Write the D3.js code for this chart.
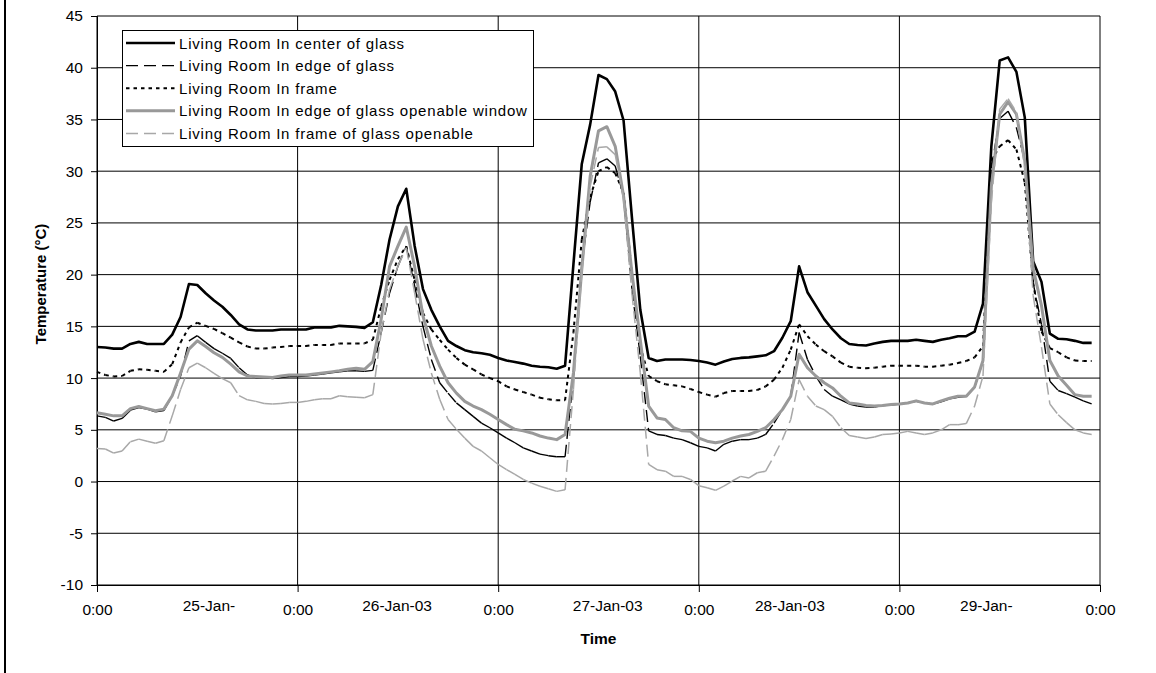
<!DOCTYPE html>
<html>
<head>
<meta charset="utf-8">
<script src="https://d3js.org/d3.v7.min.js"></script>
<style>
body { margin: 0; background: #fff; }
svg { display: block; font-family: "Liberation Sans", Arial, sans-serif; }
</style>
</head>
<body>
<div id="chart"></div>
<script>
//hourly readings from 25-Jan-03 0:00, one value per hour (120 hours)
var hours = d3.range(120);

var centerGlass = [13.0, 12.95, 12.85, 12.85, 13.3, 13.5, 13.3, 13.3, 13.3, 14.2,
    15.9, 19.1, 19.0, 18.2, 17.5, 16.9, 16.1, 15.2, 14.7, 14.6,
    14.6, 14.6, 14.7, 14.7, 14.7, 14.7, 14.9, 14.9, 14.9, 15.05,
    15.0, 14.95, 14.85, 15.4, 19.0, 23.4, 26.6, 28.3, 22.8, 18.6,
    16.6, 15.0, 13.6, 13.1, 12.7, 12.5, 12.4, 12.25, 11.95, 11.7,
    11.55, 11.4, 11.2, 11.1, 11.05, 10.9, 11.2, 21.0, 30.7, 34.5,
    39.3, 38.9, 37.7, 34.9, 25.5, 16.6, 11.95, 11.65, 11.8, 11.8,
    11.8, 11.75, 11.65, 11.5, 11.3, 11.6, 11.85, 11.95, 12.0, 12.1,
    12.2, 12.6, 13.9, 15.5, 20.8, 18.3, 17.0, 15.7, 14.7, 13.85,
    13.3, 13.2, 13.15, 13.35, 13.5, 13.6, 13.6, 13.6, 13.7, 13.6,
    13.5, 13.7, 13.85, 14.05, 14.05, 14.5, 17.2, 32.4, 40.7, 41.0,
    39.6, 35.2, 21.3, 19.3, 14.3, 13.8, 13.75, 13.6, 13.4, 13.4];

var edgeGlass = [6.35, 6.2, 5.85, 6.1, 6.9, 7.15, 7.0, 6.75, 6.85, 8.3,
    10.2, 13.6, 14.1, 13.45, 12.85, 12.4, 11.9, 11.0, 10.3, 10.05,
    10.05, 9.95, 10.05, 10.15, 10.15, 10.2, 10.3, 10.4, 10.5, 10.6,
    10.7, 10.7, 10.65, 10.75, 14.4, 18.2, 20.8, 22.75, 18.9, 15.0,
    11.8, 9.55, 8.55, 7.6, 6.95, 6.3, 5.65, 5.2, 4.7, 4.2,
    3.75, 3.25, 2.95, 2.65, 2.5, 2.4, 2.4, 10.0, 21.0, 27.0,
    30.8, 31.2, 30.5, 27.6, 18.6, 12.1, 4.9, 4.55, 4.45, 4.2,
    4.05, 3.75, 3.4, 3.25, 2.95, 3.6, 3.9, 4.05, 4.05, 4.2,
    4.55, 5.65, 6.95, 8.25, 14.4, 11.8, 10.2, 8.9, 8.25, 7.9,
    7.5, 7.3, 7.2, 7.2, 7.35, 7.4, 7.5, 7.6, 7.75, 7.6,
    7.5, 7.7, 8.0, 8.15, 8.25, 9.1, 11.6, 30.3, 35.1, 35.8,
    34.2, 31.0, 19.2, 15.2, 9.7, 8.8, 8.5, 8.15, 7.8, 7.5];

var frame = [10.6, 10.3, 10.15, 10.2, 10.7, 10.85, 10.8, 10.7, 10.6, 11.35,
    13.45, 14.9, 15.35, 15.05, 14.75, 14.35, 13.9, 13.45, 13.05, 12.85,
    12.85, 12.95, 13.0, 13.1, 13.1, 13.1, 13.2, 13.2, 13.2, 13.35,
    13.35, 13.35, 13.35, 13.7, 16.9, 19.5, 21.5, 22.75, 19.5, 16.3,
    14.7, 13.7, 12.75, 11.95, 11.3, 10.85, 10.35, 10.0, 9.7, 9.2,
    8.9, 8.65, 8.4, 8.1, 7.95, 7.85, 7.85, 14.4, 23.4, 27.5,
    30.0, 30.4, 29.8, 27.9, 20.2, 13.1, 10.2, 9.7, 9.4, 9.3,
    9.2, 8.95, 8.65, 8.4, 8.2, 8.55, 8.75, 8.75, 8.75, 8.85,
    9.2, 9.85, 11.0, 12.75, 15.2, 14.05, 13.25, 12.6, 12.1, 11.5,
    11.1, 11.0, 10.95, 11.0, 11.1, 11.2, 11.2, 11.2, 11.2, 11.1,
    11.1, 11.2, 11.3, 11.45, 11.65, 12.0, 13.1, 31.0, 32.4, 33.0,
    32.1, 28.9, 19.2, 14.5, 12.9, 12.5, 12.0, 11.7, 11.65, 11.65];

var edgeOpenable = [6.65, 6.5, 6.35, 6.35, 7.05, 7.25, 7.05, 6.85, 7.0, 8.3,
    10.5, 12.8, 13.6, 13.05, 12.45, 12.0, 11.35, 10.6, 10.2, 10.15,
    10.1, 10.05, 10.2, 10.3, 10.3, 10.3, 10.4, 10.5, 10.6, 10.7,
    10.85, 10.95, 10.85, 11.6, 15.7, 20.8, 22.75, 24.6, 20.8, 16.0,
    13.1, 11.15, 9.55, 8.55, 7.75, 7.3, 6.95, 6.5, 6.0, 5.5,
    5.05, 4.9, 4.7, 4.4, 4.2, 4.05, 4.55, 10.5, 20.5, 29.5,
    33.9, 34.3, 32.4, 27.6, 20.2, 13.7, 7.3, 6.15, 6.0, 5.2,
    4.9, 4.85, 4.2, 3.9, 3.75, 3.9, 4.2, 4.4, 4.55, 4.85,
    5.2, 6.0, 6.95, 8.25, 12.3, 11.0, 10.2, 9.55, 9.05, 8.25,
    7.6, 7.5, 7.35, 7.3, 7.35, 7.45, 7.5, 7.6, 7.8, 7.6,
    7.5, 7.8, 8.05, 8.25, 8.25, 9.15, 11.7, 28.5, 35.5, 36.7,
    35.5, 31.0, 20.6, 17.0, 11.7, 10.2, 9.3, 8.4, 8.25, 8.25];

var frameOpenable = [3.2, 3.15, 2.75, 2.95, 3.85, 4.1, 3.9, 3.7, 3.95, 6.35,
    8.9, 11.0, 11.45, 11.0, 10.45, 9.95, 9.55, 8.3, 7.9, 7.75,
    7.55, 7.5, 7.55, 7.65, 7.65, 7.75, 7.9, 8.0, 8.0, 8.3,
    8.2, 8.15, 8.1, 8.4, 14.4, 18.55, 20.8, 22.6, 18.25, 13.75,
    10.5, 7.95, 6.0, 5.05, 4.2, 3.4, 2.95, 2.3, 1.65, 1.15,
    0.7, 0.2, -0.15, -0.45, -0.7, -0.95, -0.8, 8.9, 20.2, 28.5,
    32.3, 32.35, 31.6, 27.3, 18.2, 10.5, 1.65, 1.15, 1.0, 0.5,
    0.5, 0.2, -0.4, -0.6, -0.85, -0.45, 0.05, 0.5, 0.35, 0.85,
    1.0, 2.45, 4.05, 6.0, 9.85, 8.25, 7.3, 6.95, 6.3, 5.2,
    4.45, 4.3, 4.15, 4.3, 4.55, 4.6, 4.7, 4.85, 4.7, 4.55,
    4.7, 5.0, 5.5, 5.5, 5.6, 7.3, 10.2, 27.0, 36.0, 37.0,
    35.7, 30.3, 18.0, 13.0, 7.5, 6.45, 5.7, 5.0, 4.7, 4.55];

var seriesNames = ["Living Room In center of glass", "Living Room In edge of glass",
    "Living Room In frame", "Living Room In edge of glass openable window",
    "Living Room In frame of glass openable"];
var seriesValues = [centerGlass, edgeGlass, frame, edgeOpenable, frameOpenable];

//axis ticks
var yTicks = [-10, -5, 0, 5, 10, 15, 20, 25, 30, 35, 40, 45];
var dayHours = [0, 24, 48, 72, 96, 120];
var dayLabels = ["0:00", "0:00", "0:00", "0:00", "0:00", "0:00"];
var dateHours = [13.4, 35.9, 61.1, 82.9, 106.4];
var dateLabels = ["25-Jan-", "26-Jan-03", "27-Jan-03", "28-Jan-03", "29-Jan-"];

//line look for each series (dash restarts on every segment, like the original)
var styles = [
    {color: "#000", width: 2.6, dash: null},
    {color: "#000", width: 1.4, dash: "12,6"},
    {color: "#000", width: 2, dash: "3.5,4"},
    {color: "#999", width: 3, dash: null},
    {color: "#a8a8a8", width: 1.5, dash: "12,6"}
];

var width = 1156, height = 673;
var plotLeft = 97, plotRight = 1100, plotTop = 16, plotBottom = 585;

var svg = d3.select("#chart").append("svg").attr("width", width).attr("height", height);

//frame line on the left edge
svg.append("line").attr("x1", 5).attr("x2", 5).attr("y1", 0).attr("y2", height)
    .attr("stroke", "#000").attr("stroke-width", 2);

//Define Scales
var x = d3.scaleLinear().domain([0, 120]).range([plotLeft, plotRight]);
var y = d3.scaleLinear().domain([-10, 45]).range([plotBottom, plotTop]);

//horizontal gridlines
svg.append("g").selectAll("line").data(yTicks).enter().append("line")
    .attr("x1", plotLeft).attr("x2", plotRight)
    .attr("y1", function(d){ return y(d); }).attr("y2", function(d){ return y(d); })
    .attr("stroke", "#000").attr("stroke-width", 1);

//vertical gridlines at midnight
svg.append("g").selectAll("line").data(dayHours).enter().append("line")
    .attr("x1", function(d){ return x(d); }).attr("x2", function(d){ return x(d); })
    .attr("y1", plotTop).attr("y2", plotBottom)
    .attr("stroke", "#000").attr("stroke-width", 1);

//Y axis (plain hyphen for negatives, like the original)
var yA = d3.axisLeft(y).tickValues(yTicks).tickSize(6).tickPadding(8)
    .tickFormat(function(d){ return "" + d; });
var gy = svg.append("g").attr("transform", "translate(" + plotLeft + ",0)").call(yA);
gy.select(".domain").attr("stroke", "#000");
gy.selectAll("text").style("font-size", "15.5px").attr("fill", "#000");

//X axis, midnight ticks
var xA = d3.axisBottom(x).tickValues(dayHours).tickSize(7).tickPadding(12)
    .tickFormat(function(d, i){ return dayLabels[i]; });
var gx = svg.append("g").attr("transform", "translate(0," + plotBottom + ")").call(xA);
gx.select(".domain").attr("stroke", "#000");
gx.selectAll("text").style("font-size", "15.5px").attr("fill", "#000");

//date labels between midnights
svg.append("g").selectAll("text").data(dateLabels).enter().append("text")
    .attr("x", function(d, i){ return x(dateHours[i]); })
    .attr("y", 611)
    .attr("text-anchor", "middle")
    .style("font-size", "15.5px")
    .text(function(d){ return d; });

//axis titles
svg.append("text")
    .attr("x", (plotLeft + plotRight) / 2).attr("y", 644)
    .attr("text-anchor", "middle")
    .style("font-size", "15.5px").style("font-weight", "bold")
    .text("Time");
svg.append("text")
    .attr("transform", "translate(46,284) rotate(-90)")
    .attr("text-anchor", "middle")
    .style("font-size", "15px").style("font-weight", "bold")
    .text("Temperature (\u00B0C)");

//Draw the series
seriesValues.forEach(function(vals, k){
    var st = styles[k];
    var pts = hours.map(function(h, i){ return [x(h), y(vals[i])]; });
    if (st.dash == null){
        svg.append("path")
            .attr("d", d3.line()(pts))
            .attr("fill", "none")
            .attr("stroke", st.color)
            .attr("stroke-width", st.width)
            .attr("stroke-linejoin", "round");
    } else {
        svg.append("g").selectAll("line").data(d3.pairs(pts)).enter().append("line")
            .attr("x1", function(d){ return d[0][0]; })
            .attr("y1", function(d){ return d[0][1]; })
            .attr("x2", function(d){ return d[1][0]; })
            .attr("y2", function(d){ return d[1][1]; })
            .attr("stroke", st.color)
            .attr("stroke-width", st.width)
            .attr("stroke-dasharray", st.dash);
    }
});

//Legend
var lg = svg.append("g");
lg.append("rect").attr("x", 122.5).attr("y", 30.5).attr("width", 411).attr("height", 116)
    .attr("fill", "#fff").attr("stroke", "#000").attr("stroke-width", 1);
seriesNames.forEach(function(name, k){
    var st = styles[k];
    var ly = 43 + k * 22.6;
    lg.append("line").attr("x1", 126).attr("x2", 175).attr("y1", ly).attr("y2", ly)
        .attr("stroke", st.color).attr("stroke-width", st.width)
        .attr("stroke-dasharray", st.dash);
    lg.append("text").attr("x", 179).attr("y", ly + 5.5)
        .style("font-size", "15px").style("letter-spacing", "0.8px")
        .text(name);
});
</script>
</body>
</html>
